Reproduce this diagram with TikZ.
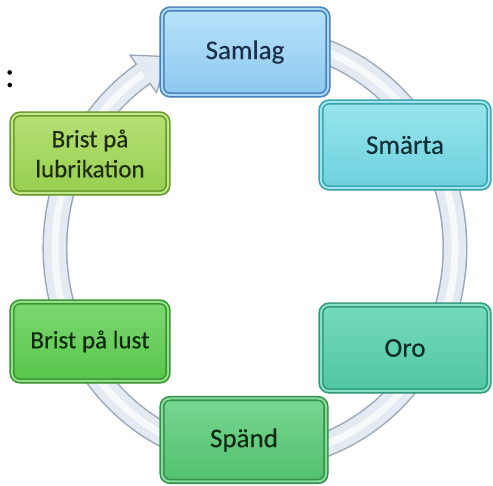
\documentclass[tikz,border=0pt]{standalone}
\usepackage{fontspec}
\setmainfont{Carlito}
\newfontfamily\boxfont{Carlito}[BoldFont={Carlito}, BoldFeatures={FakeBold=0.3}]
\usetikzlibrary{shadows}
\definecolor{ringline}{HTML}{9AA8BA}
\definecolor{ringfill}{HTML}{E4EAF1}
\definecolor{sbord}{HTML}{4A80BA}\definecolor{sdbl}{HTML}{A8D8F6}\definecolor{stop}{HTML}{B8E2FA}\definecolor{sbot}{HTML}{8CC8F0}\definecolor{stxt}{HTML}{1C3048}
\definecolor{mbord}{HTML}{3AA0AE}\definecolor{mdbl}{HTML}{9CE6EE}\definecolor{mtop}{HTML}{98E4EC}\definecolor{mbot}{HTML}{6CD2DE}\definecolor{mtxt}{HTML}{103038}
\definecolor{obord}{HTML}{33997E}\definecolor{odbl}{HTML}{86E0C4}\definecolor{otop}{HTML}{76DABD}\definecolor{obot}{HTML}{50C6A2}\definecolor{otxt}{HTML}{0E2A22}
\definecolor{pbord}{HTML}{349149}\definecolor{pdbl}{HTML}{88DC9C}\definecolor{ptop}{HTML}{78D690}\definecolor{pbot}{HTML}{52C06E}\definecolor{ptxt}{HTML}{0E2A14}
\definecolor{lbord}{HTML}{3A9432}\definecolor{ldbl}{HTML}{90E086}\definecolor{ltop}{HTML}{7CD870}\definecolor{lbot}{HTML}{58C64C}\definecolor{ltxt}{HTML}{0E2A0C}
\definecolor{bbord}{HTML}{6A982A}\definecolor{bdbl}{HTML}{C0E888}\definecolor{btop}{HTML}{B6E074}\definecolor{bbot}{HTML}{96CE50}\definecolor{btxt}{HTML}{1E2A0C}
\tikzset{
  box/.style={rounded corners=8pt, line width=1.6pt, double distance=2pt,
    inner sep=0pt, align=center,
    drop shadow={shadow xshift=2pt, shadow yshift=-2.5pt, opacity=0.4}},
  bigtext/.style={font=\boxfont\bfseries\fontsize{27}{32}\selectfont},
  smalltext/.style={font=\boxfont\bfseries\fontsize{25}{30}\selectfont},
  samlagbox/.style={box, bigtext, draw=sbord, double=sdbl, top color=stop, bottom color=sbot, text=stxt},
  smartabox/.style={box, bigtext, draw=mbord, double=mdbl, top color=mtop, bottom color=mbot, text=mtxt},
  orobox/.style={box, bigtext, draw=obord, double=odbl, top color=otop, bottom color=obot, text=otxt},
  spandbox/.style={box, bigtext, draw=pbord, double=pdbl, top color=ptop, bottom color=pbot, text=ptxt},
  lustbox/.style={box, smalltext, draw=lbord, double=ldbl, top color=ltop, bottom color=lbot, text=ltxt},
  lubbox/.style={box, smalltext, draw=bbord, double=bdbl, top color=btop, bottom color=bbot, text=btxt},
}
\begin{document}
\begin{tikzpicture}[x=1pt,y=1pt]
\useasboundingbox (0,0) rectangle (493,486);
% ring arrow
\coordinate (rs) at (289.7,444.8);
\draw[ringline, line width=25pt] (rs) arc[start angle=80, end angle=-236, x radius=200pt, y radius=210pt];
\filldraw[fill=ringfill, draw=ringline, line width=1.3pt, line join=round] (129.9,430.9) -- (167.7,429.4) -- (156.5,393.3) -- cycle;
\draw[ringfill, line width=22pt] (rs) arc[start angle=80, end angle=-237, x radius=200pt, y radius=210pt];
\draw[white, opacity=0.7, line width=7pt] (rs) arc[start angle=80, end angle=-236, x radius=200pt, y radius=210pt];
% colon
\node[anchor=base, font=\fontsize{38}{38}\selectfont, inner sep=0pt] (colon) at (10,398) {:};
% boxes
\node[samlagbox, minimum width=166pt, minimum height=86pt] (samlag) at (245,434) {Samlag};
\node[smartabox, minimum width=168pt, minimum height=86pt] (smarta) at (405,341) {Smärta};
\node[lubbox, minimum width=156pt, minimum height=79pt] (lub) at (90,332.5) {Brist på\\lubrikation};
\node[lustbox, minimum width=156pt, minimum height=79pt] (lust) at (90,144.5) {Brist på lust};
\node[orobox, minimum width=168pt, minimum height=86pt] (oro) at (405,138) {Oro};
\node[spandbox, minimum width=164pt, minimum height=83pt] (spand) at (244,46) {Spänd};
\end{tikzpicture}
\end{document}
